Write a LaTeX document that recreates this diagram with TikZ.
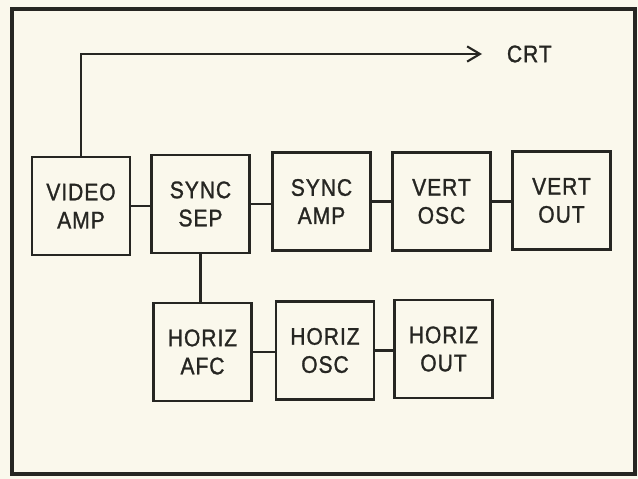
\documentclass[tikz,border=0pt]{standalone}
\usepackage{fontspec}
\setmainfont[FakeStretch=0.88, FakeBold=1.2, LetterSpace=4]{Liberation Sans}
\usepackage{tikz}
\usetikzlibrary{positioning,arrows.meta,calc}
\definecolor{paper}{RGB}{250,248,236}
\definecolor{ink}{RGB}{38,38,34}
\tikzset{
  flowline/.style={draw=ink, line width=1.5pt},
  crtarrow/.style={draw=ink, line width=1.5pt, -{Straight Barb[length=3.2mm, width=3.8mm, line width=1.5pt]}},
  blockbox/.style={draw=ink, line width=1.5pt, fill=paper, minimum width=2.45cm, minimum height=2.45cm, inner sep=0pt, align=center, text=ink},
  frameline/.style={draw=ink, line width=3pt}
}
\begin{document}
\begin{tikzpicture}[x=0.025cm, y=-0.025cm, every node/.style={font=\fontsize{17}{20}\selectfont}]
  \fill[paper] (0,0) rectangle (638,479);
  \useasboundingbox (0,0) rectangle (638,479);
  \draw[frameline] (12,9) rectangle (635,474);
  % upper row
  \node[blockbox] (vamp) at (81,206) {VIDEO\\AMP};
  \node[blockbox] (ssep) at (200.5,204) {SYNC\\SEP};
  \node[blockbox] (samp) at (321.5,201.5) {SYNC\\AMP};
  \node[blockbox] (vosc) at (441.5,201.5) {VERT\\OSC};
  \node[blockbox] (vout) at (561.5,200.5) {VERT\\OUT};
  % lower row
  \node[blockbox] (hafc) at (202.5,352) {HORIZ\\AFC};
  \node[blockbox] (hosc) at (325,350.5) {HORIZ\\OSC};
  \node[blockbox] (hout) at (443.5,349) {HORIZ\\OUT};
  % to the tube
  \coordinate (crt) at (482,54);
  \node[text=ink, anchor=west] (crtlabel) at (502,54) {CRT};
  \draw[crtarrow] (vamp.north) |- (crt);
  \draw[flowline] (vamp) -- (vamp -| ssep.west);
  \draw[flowline] (ssep) -- (ssep -| samp.west);
  \draw[flowline] (samp) -- (samp -| vosc.west);
  \draw[flowline] (vosc) -- (vosc -| vout.west);
  \draw[flowline] (ssep) -- (ssep |- hafc.north);
  \draw[flowline] (hafc) -- (hafc -| hosc.west);
  \draw[flowline] (hosc) -- (hosc -| hout.west);
\end{tikzpicture}
\end{document}
